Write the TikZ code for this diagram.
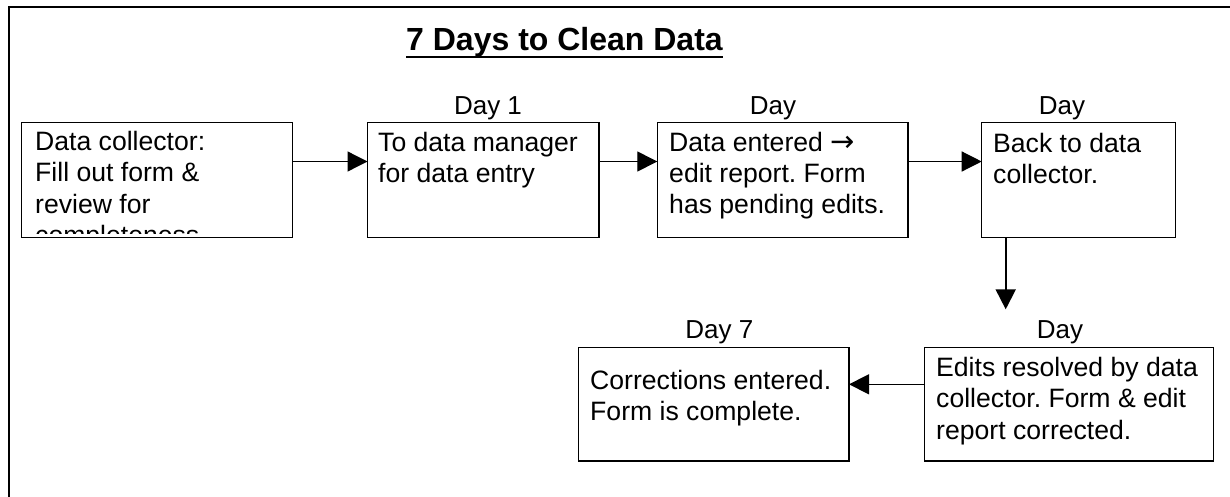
\documentclass[tikz,border=0pt]{standalone}
\usepackage{fontspec}
\setmainfont{Liberation Sans}
\newfontfamily\arrowfont{DejaVu Sans}
\usetikzlibrary{arrows.meta}
\frenchspacing

% multi-line text whose reference point is the first baseline
\newcommand\stagetext[1]{\parbox[t]{400pt}{\raggedright #1}}

\tikzset{
  stage/.style={draw, line width=1.3pt, inner sep=0pt, outer sep=0pt, anchor=north west},
  body/.style={anchor=base west, inner sep=0pt, font=\fontsize{26.6}{31.2}\selectfont},
  daylabel/.style={anchor=base, inner sep=0pt, font=\fontsize{26}{31.2}\selectfont},
  heading/.style={anchor=base, inner sep=0pt, font=\bfseries\fontsize{32}{38}\selectfont},
  flow/.style={line width=1.3pt, -{Triangle[length=20pt,width=20pt]}},
  frame/.style={line width=2pt},
}

\begin{document}
\begin{tikzpicture}[x=1pt, y=-1pt]
\useasboundingbox (0,0) rectangle (1230,496);

% page frame (continues past the right and bottom edges)
\coordinate (frameBL) at (8.5,500);
\coordinate (frameTL) at (8.5,6.5);
\coordinate (frameTR) at (1240,6.5);
\draw[frame] (frameBL) -- (frameTL) -- (frameTR);

% title
\node[heading] (title) at (564.5,50) {7 Days to Clean Data};
\draw[line width=2.8pt] ([yshift=-7pt]title.base west) -- ([yshift=-7pt]title.base east);

% stage boxes
\node[stage, minimum width=270.6pt, minimum height=115pt] (b1) at (21.7,122.7) {};
\node[stage, minimum width=231.5pt, minimum height=115pt] (b2) at (367.5,122.7) {};
\node[stage, minimum width=250.7pt, minimum height=115pt] (b3) at (657.3,122.7) {};
\node[stage, minimum width=194pt,   minimum height=115pt] (b4) at (981.7,122.7) {};
\node[stage, minimum width=289pt,   minimum height=113.7pt] (b5) at (924.3,347.3) {};
\node[stage, minimum width=270.7pt, minimum height=113.7pt] (b6) at (578.3,347.3) {};

% stage texts; the first box is too short for its last line, which is cut off
\begin{scope}
  \clip (b1.north west) rectangle ([yshift=4.2pt]b1.south east);
  \node[body] (t1) at (35,150.7) {\stagetext{Data collector:\\Fill out form \&\\review for\\completeness}};
\end{scope}
\node[body] (t2) at (378,151) {\stagetext{To data manager\\for data entry}};
\node[body] (t3) at (669,151) {\stagetext{Data entered {\arrowfont\fontsize{29}{31.2}\selectfont →}\\edit report. Form\\has pending edits.}};
\node[body] (t4) at (993,152.5) {\stagetext{Back to data\\collector.}};
\node[body] (t5) at (936,376.7) {\stagetext{Edits resolved by data\\collector. Form \& edit\\report corrected.}};
\node[body] (t6) at (590,389.3) {\stagetext{Corrections entered.\\Form is complete.}};

% day labels
\node[daylabel] (d2) at (488,114.5) {Day 1};
\node[daylabel] (d3) at (773,114.5) {Day};
\node[daylabel] (d4) at (1062,114.5) {Day};
\node[daylabel] (d5) at (1060,338.3) {Day};
\node[daylabel] (d6) at (719.3,338.3) {Day 7};

% connectors
\coordinate (rowA) at (0,161.5);
\coordinate (rowB) at (0,384.3);
\coordinate (dropend) at (1005.7,309.3);
\draw[flow] (b1.east |- rowA) -- (b2.west |- rowA);
\draw[flow] (b2.east |- rowA) -- (b3.west |- rowA);
\draw[flow] (b3.east |- rowA) -- (b4.west |- rowA);
\draw[flow, line width=2pt] (b4.south -| dropend) -- (dropend);
\draw[flow] (b5.west |- rowB) -- (b6.east |- rowB);
\end{tikzpicture}
\end{document}
